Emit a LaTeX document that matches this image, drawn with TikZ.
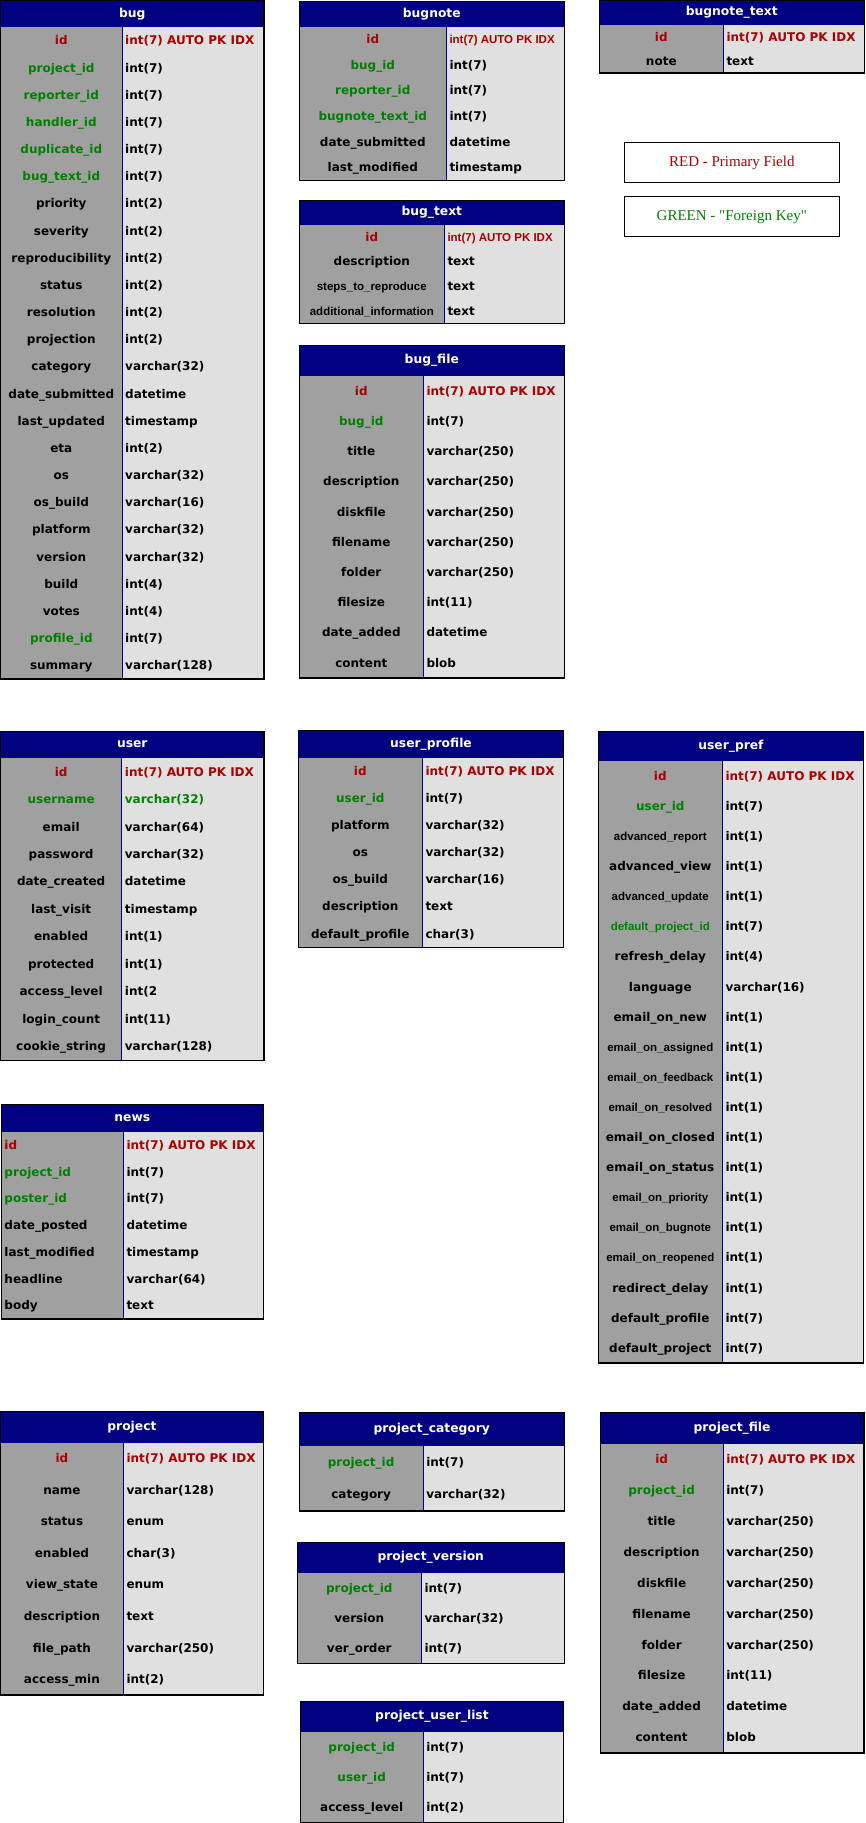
\documentclass[tikz,border=0pt]{standalone}
\usepackage{fontspec}
\setmainfont{Liberation Serif}
\newfontfamily\dvs{DejaVu Sans}
\newfontfamily\lsans{Liberation Sans}
\newfontfamily\lserif{Liberation Serif}
\definecolor{hdrblue}{RGB}{0,0,128}
\definecolor{keygray}{RGB}{160,160,160}
\definecolor{typegray}{RGB}{224,224,224}
\definecolor{pkred}{RGB}{170,0,0}
\definecolor{fkgreen}{RGB}{0,128,0}
\newcommand\wf{\dvs\bfseries\fontsize{12pt}{14pt}\selectfont}
\newcommand\hf{\dvs\bfseries\fontsize{12.3pt}{14pt}\selectfont}
\newcommand\nf{\lsans\bfseries\fontsize{11.5pt}{13pt}\selectfont}
\newcommand\lf{\lserif\fontsize{15pt}{17pt}\selectfont}
\tikzset{
  hdrfill/.style={fill=hdrblue},
  keyfill/.style={fill=keygray},
  typefill/.style={fill=typegray},
  divline/.style={draw=hdrblue, line width=1pt},
  frame/.style={draw=black, line width=1.3pt},
  hdrtext/.style={inner sep=0pt, anchor=mid, font=\hf, text=white, yshift=-1pt},
  cell/.style={inner sep=0pt, font=\wf, text=black, yshift=-2pt},
  nm/.style={cell, anchor=mid},
  pk/.style={nm, text=pkred},
  fk/.style={nm, text=fkgreen},
  nn/.style={cell, anchor=mid, font=\nf},
  fkn/.style={nn, text=fkgreen},
  tnm/.style={cell, anchor=mid west},
  tpk/.style={tnm, text=pkred},
  tfk/.style={tnm, text=fkgreen},
  tpkn/.style={tnm, font=\nf, text=pkred},
  lnm/.style={nm, anchor=mid west, xshift=-58pt},
  lpk/.style={lnm, text=pkred},
  lfk/.style={lnm, text=fkgreen},
  legendbox/.style={draw=black, line width=1.2pt, fill=white},
  legendtext/.style={inner sep=0pt, font=\lf, yshift=-1pt},
}
\newcommand\tgeom[7]{\def\tXa{#1}\def\tXb{#2}\def\tXd{#3}\def\tYt{#4}\def\tYh{#5}\def\tYb{#6}\def\tN{#7}}
\newcommand\dbtable[3]{%
  \pgfmathsetmacro\rh{(\tYb-\tYh)/\tN}
  \fill[hdrfill] (\tXa,\tYt) rectangle (\tXb,\tYh);
  \fill[keyfill] (\tXa,\tYh) rectangle (\tXd,\tYb);
  \fill[typefill] (\tXd,\tYh) rectangle (\tXb,\tYb);
  \draw[divline] (\tXd,\tYh) -- (\tXd,\tYb);
  \draw[frame] (\tXa,\tYt) rectangle (\tXb,\tYb);
  \node[hdrtext] (#1-title) at ({(\tXa+\tXb)/2},{(\tYt+\tYh)/2}) {#2};
  \foreach \kn/\tn/\ks/\ts [count=\i] in {#3} {
    \pgfmathsetmacro\yc{\tYh+(\i-0.5)*\rh}
    \node[\ks] (#1-k\i) at ({(\tXa+\tXd)/2},\yc) {\kn};
    \node[\ts] (#1-t\i) at ({\tXd+3},\yc) {\tn};
  }
}
\begin{document}
\begin{tikzpicture}[x=1pt,y=-1pt]
\useasboundingbox (0,0) rectangle (865,1823);
\fill[white] (0,0) rectangle (865,1823);

% bug
\tgeom{0.6}{264}{122}{0.6}{27}{679}{24}
\dbtable{bug}{bug}{id/int(7) AUTO PK IDX/pk/tpk,
project\_id/int(7)/fk/tnm,
reporter\_id/int(7)/fk/tnm,
handler\_id/int(7)/fk/tnm,
duplicate\_id/int(7)/fk/tnm,
bug\_text\_id/int(7)/fk/tnm,
priority/int(2)/nm/tnm,
severity/int(2)/nm/tnm,
reproducibility/int(2)/nm/tnm,
status/int(2)/nm/tnm,
resolution/int(2)/nm/tnm,
projection/int(2)/nm/tnm,
category/varchar(32)/nm/tnm,
date\_submitted/datetime/nm/tnm,
last\_updated/timestamp/nm/tnm,
eta/int(2)/nm/tnm,
os/varchar(32)/nm/tnm,
os\_build/varchar(16)/nm/tnm,
platform/varchar(32)/nm/tnm,
version/varchar(32)/nm/tnm,
build/int(4)/nm/tnm,
votes/int(4)/nm/tnm,
profile\_id/int(7)/fk/tnm,
summary/varchar(128)/nm/tnm}

% bugnote
\tgeom{299.3}{564.3}{446.3}{1.7}{26.7}{180.3}{6}
\dbtable{bugnote}{bugnote}{id/int(7) AUTO PK IDX/pk/tpkn,
bug\_id/int(7)/fk/tnm,
reporter\_id/int(7)/fk/tnm,
bugnote\_text\_id/int(7)/fk/tnm,
date\_submitted/datetime/nm/tnm,
last\_modified/timestamp/nm/tnm}

% bugnote_text
\tgeom{599.3}{864.3}{723.3}{0.7}{24.7}{73}{2}
\dbtable{bugnotetext}{bugnote\_text}{id/int(7) AUTO PK IDX/pk/tpk,
note/text/nm/tnm}

% legend
\draw[legendbox] (624.3,142.3) rectangle (839.3,182.3);
\node[legendtext, text=pkred] (legend-red) at (731.8,162.3) {RED - Primary Field};
\draw[legendbox] (624.3,196.3) rectangle (839.3,236.3);
\node[legendtext, text=fkgreen] (legend-green) at (731.8,216.3) {GREEN - "Foreign Key"};

% bug_text
\tgeom{299.3}{564.3}{444.3}{200.3}{224.7}{323.3}{4}
\dbtable{bugtext}{bug\_text}{id/int(7) AUTO PK IDX/pk/tpkn,
description/text/nm/tnm,
steps\_to\_reproduce/text/nn/tnm,
additional\_information/text/nn/tnm}

% bug_file
\tgeom{299.3}{564.3}{423.3}{345.3}{375.7}{678}{10}
\dbtable{bugfile}{bug\_file}{id/int(7) AUTO PK IDX/pk/tpk,
bug\_id/int(7)/fk/tnm,
title/varchar(250)/nm/tnm,
description/varchar(250)/nm/tnm,
diskfile/varchar(250)/nm/tnm,
filename/varchar(250)/nm/tnm,
folder/varchar(250)/nm/tnm,
filesize/int(11)/nm/tnm,
date\_added/datetime/nm/tnm,
content/blob/nm/tnm}

% user
\tgeom{0.6}{264}{121.7}{731.3}{758}{1060.3}{11}
\dbtable{user}{user}{id/int(7) AUTO PK IDX/pk/tpk,
username/varchar(32)/fk/tfk,
email/varchar(64)/nm/tnm,
password/varchar(32)/nm/tnm,
date\_created/datetime/nm/tnm,
last\_visit/timestamp/nm/tnm,
enabled/int(1)/nm/tnm,
protected/int(1)/nm/tnm,
access\_level/int(2/nm/tnm,
login\_count/int(11)/nm/tnm,
cookie\_string/varchar(128)/nm/tnm}

% user_profile
\tgeom{298.3}{563.7}{422.3}{730.3}{757.7}{947.3}{7}
\dbtable{userprofile}{user\_profile}{id/int(7) AUTO PK IDX/pk/tpk,
user\_id/int(7)/fk/tnm,
platform/varchar(32)/nm/tnm,
os/varchar(32)/nm/tnm,
os\_build/varchar(16)/nm/tnm,
description/text/nm/tnm,
default\_profile/char(3)/nm/tnm}

% user_pref
\tgeom{598.3}{863.7}{722.3}{731.3}{761}{1363}{20}
\dbtable{userpref}{user\_pref}{id/int(7) AUTO PK IDX/pk/tpk,
user\_id/int(7)/fk/tnm,
advanced\_report/int(1)/nn/tnm,
advanced\_view/int(1)/nm/tnm,
advanced\_update/int(1)/nn/tnm,
default\_project\_id/int(7)/fkn/tnm,
refresh\_delay/int(4)/nm/tnm,
language/varchar(16)/nm/tnm,
email\_on\_new/int(1)/nm/tnm,
email\_on\_assigned/int(1)/nn/tnm,
email\_on\_feedback/int(1)/nn/tnm,
email\_on\_resolved/int(1)/nn/tnm,
email\_on\_closed/int(1)/nm/tnm,
email\_on\_status/int(1)/nm/tnm,
email\_on\_priority/int(1)/nn/tnm,
email\_on\_bugnote/int(1)/nn/tnm,
email\_on\_reopened/int(1)/nn/tnm,
redirect\_delay/int(1)/nm/tnm,
default\_profile/int(7)/nm/tnm,
default\_project/int(7)/nm/tnm}

% news
\tgeom{1.3}{263.3}{123.3}{1104.7}{1131.7}{1319}{7}
\dbtable{news}{news}{id/int(7) AUTO PK IDX/lpk/tpk,
project\_id/int(7)/lfk/tnm,
poster\_id/int(7)/lfk/tnm,
date\_posted/datetime/lnm/tnm,
last\_modified/timestamp/lnm/tnm,
headline/varchar(64)/lnm/tnm,
body/text/lnm/tnm}

% project
\tgeom{0.6}{263.3}{123.3}{1411.3}{1442.7}{1695}{8}
\dbtable{project}{project}{id/int(7) AUTO PK IDX/pk/tpk,
name/varchar(128)/nm/tnm,
status/enum/nm/tnm,
enabled/char(3)/nm/tnm,
view\_state/enum/nm/tnm,
description/text/nm/tnm,
file\_path/varchar(250)/nm/tnm,
access\_min/int(2)/nm/tnm}

% project_category
\tgeom{299.2}{564.3}{423.1}{1412.3}{1445.7}{1511}{2}
\dbtable{projectcategory}{project\_category}{project\_id/int(7)/fk/tnm,
category/varchar(32)/nm/tnm}

% project_version
\tgeom{297.3}{564.3}{421.3}{1542.3}{1572.7}{1663.3}{3}
\dbtable{projectversion}{project\_version}{project\_id/int(7)/fk/tnm,
version/varchar(32)/nm/tnm,
ver\_order/int(7)/nm/tnm}

% project_user_list
\tgeom{300.3}{563.6}{423.1}{1701.3}{1731.7}{1822.2}{3}
\dbtable{projectuserlist}{project\_user\_list}{project\_id/int(7)/fk/tnm,
user\_id/int(7)/fk/tnm,
access\_level/int(2)/nm/tnm}

% project_file
\tgeom{600.2}{863.9}{723.1}{1412.3}{1443.7}{1753}{10}
\dbtable{projectfile}{project\_file}{id/int(7) AUTO PK IDX/pk/tpk,
project\_id/int(7)/fk/tnm,
title/varchar(250)/nm/tnm,
description/varchar(250)/nm/tnm,
diskfile/varchar(250)/nm/tnm,
filename/varchar(250)/nm/tnm,
folder/varchar(250)/nm/tnm,
filesize/int(11)/nm/tnm,
date\_added/datetime/nm/tnm,
content/blob/nm/tnm}
\end{tikzpicture}
\end{document}
